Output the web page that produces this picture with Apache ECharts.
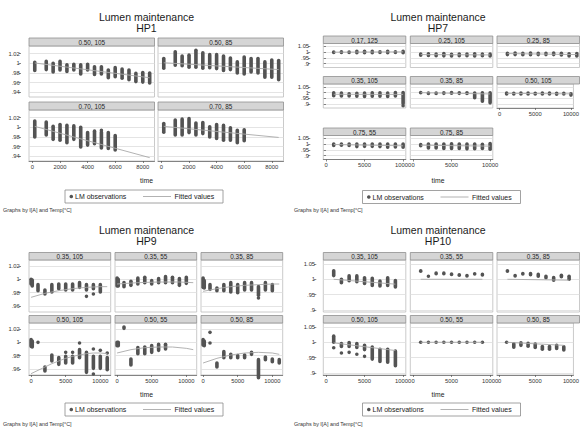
<!DOCTYPE html>
<html><head><meta charset="utf-8">
<script src="https://cdn.jsdelivr.net/npm/echarts@6/dist/echarts.min.js"></script>
<style>html,body{margin:0;padding:0;background:#fff}#c{width:582px;height:427px}</style>
</head><body><div id="c"></div>
<script>
// ---------- tick labels ----------
const hp1XTicks = [0, 2000, 4000, 6000, 8000];
const hp1YTicks = [0.94, 0.96, 0.98, 1, 1.02];
const hp7XTicks = [0, 5000, 10000];
const hp7YTicks = [0.9, 0.95, 1, 1.05];
const hp9XTicks = [0, 5000, 10000];
const hp9YTicks = [0.96, 0.98, 1, 1.02];
const hp10XTicks = [0, 5000, 10000];
const hp10YTicks = [0.9, 0.95, 1, 1.05];

// ---------- panel labels (I[A], Temp[°C]) ----------
const hp1Labels = ['0.50, 105', '0.50, 85', '0.70, 105', '0.70, 85'];
const hp7Labels = ['0.17, 125', '0.25, 105', '0.25, 85', '0.35, 105', '0.35, 85', '0.50, 105', '0.75, 55', '0.75, 85'];
const hp9Labels = ['0.35, 105', '0.35, 55', '0.35, 85', '0.50, 105', '0.50, 55', '0.50, 85'];
const hp10Labels = ['0.35, 105', '0.35, 55', '0.35, 85', '0.50, 105', '0.50, 55', '0.50, 85'];

// ---------- LM observations: [time, lowest, highest] ----------
const hp1_050_105 = [[168,.985,1.002],[1000,.987,1.004],[1500,.982,1.0],[2000,.986,1.004],[2500,.983,.997],[3000,.986,.998],[3500,.978,.997],[4000,.986,.998],[4500,.977,.993],[5000,.978,.993],[5500,.970,.986],[6000,.972,.991],[6500,.969,.988],[7000,.966,.986],[7500,.962,.979],[8000,.961,.981],[8500,.959,.980]];
const hp1_050_85 = [[168,.990,1.010],[1000,.996,1.024],[1500,.995,1.015],[2000,.992,1.017],[2500,.992,1.027],[3000,.990,1.022],[3500,.991,1.018],[4000,.989,1.018],[4500,.985,1.015],[5000,.987,1.011],[5500,.980,1.003],[6000,.978,1.013],[6500,.982,1.010],[7000,.980,1.010],[7500,.971,1.003],[8000,.971,1.007],[8500,.966,1.006]];
const hp1_070_105 = [[168,.980,1.013],[1000,.984,1.011],[1500,.975,1.002],[2000,.973,1.006],[2500,.968,1.004],[3000,.975,1.003],[3500,.959,1.0],[4000,.963,.989],[4500,.966,.992],[5000,.957,.990],[5000,.994,.994],[5500,.956,.989],[6000,.953,.983]];
const hp1_070_85 = [[168,.990,1.008],[1000,.984,1.015],[1500,.984,1.017],[2000,.989,1.018],[2500,.984,1.009],[3000,.987,1.010],[3500,.980,1.001],[4000,.977,1.006],[4500,.973,1.004],[5000,.973,.999],[5500,.968,.994],[6000,.972,.995]];

const hp7_017_125 = [[1000,.997,1.0],[2000,.997,1.003],[3000,.997,1.0],[4000,.995,1.007],[5000,.995,1.007],[6000,.995,1.006],[7000,.996,1.003],[8000,.995,1.007],[9000,.996,1.003],[10000,.995,1.007]];
const hp7_025_105 = [[1000,.972,.982],[2000,.970,.984],[3000,.968,.982],[4000,.967,.988],[5000,.966,.980],[6000,.968,.983],[7000,.968,.983],[8000,.966,.985],[9000,.968,.982],[10000,.965,.982]];
const hp7_025_85 = [[1000,.978,.990],[2000,.978,.992],[3000,.977,.990],[4000,.977,.991],[5000,.978,.990],[6000,.978,.990],[7000,.978,.992],[8000,.975,.990],[9000,.965,.985],[10000,.965,.987]];
const hp7_035_105 = [[1000,.972,.998],[2000,.970,.995],[3000,.970,.990],[4000,.968,.993],[5000,.966,.995],[6000,.968,.997],[7000,.968,.998],[8000,.965,.995],[9000,.970,1.0],[10000,.905,1.0],[10000,.885,.885]];
const hp7_035_85 = [[1000,.998,1.0],[2000,.992,.996],[3000,.992,.996],[4000,.993,.999],[5000,.995,1.0],[6000,.993,.999],[7000,.992,.998],[8000,.955,.995],[9000,.925,.997],[10000,.910,.997]];
const hp7_050_105 = [[1000,.988,.995],[2000,.987,.994],[3000,.988,.995],[4000,.987,.995],[5000,.988,.994],[6000,.987,.995],[7000,.988,.995],[8000,.986,.994],[9000,.987,.994],[10000,.978,.990]];
const hp7_075_55 = [[1000,.988,1.0],[2000,.990,1.0],[3000,.988,1.0],[4000,.978,1.0],[5000,.980,1.0],[6000,.980,1.0],[7000,.978,1.0],[8000,.972,1.0],[9000,.975,1.0],[10000,.972,1.0]];
const hp7_075_85 = [[1000,.985,.995],[2000,.965,1.0],[3000,.965,1.0],[4000,.962,1.0],[5000,.962,1.002],[6000,.962,1.0],[7000,.958,1.0],[8000,.960,1.0],[9000,.962,.998],[10000,.955,1.005]];

const hp9_035_105 = [[0,.993,1.0],[168,.990,.999],[1000,.983,.992],[2000,.978,.984],[3000,.981,.992],[4000,.986,.993],[5000,.984,.993],[6000,.984,.993],[7000,.988,.995],[8000,.984,.992],[8000,.9745,.9745],[9000,.986,.992],[9000,.978,.978],[10000,.981,.992]];
const hp9_035_55 = [[0,.990,1.002],[168,.990,1.0],[1000,.989,.995],[2000,.991,.997],[3000,.993,1.002],[4000,.995,1.003],[5000,.993,.998],[6000,.995,1.001],[7000,.995,1.004],[8000,.995,1.003],[9000,.991,1.001],[10000,.994,1.003]];
const hp9_035_85 = [[0,.988,1.002],[168,.987,.998],[1000,.985,.992],[2000,.983,.987],[3000,.983,.992],[4000,.981,.995],[5000,.980,.992],[6000,.984,.995],[7000,.984,.995],[8000,.976,.989],[8000,.972,.972],[9000,.984,.995],[10000,.983,.992]];
const hp9_050_105 = [[0,.994,1.004],[168,.993,1.002],[1000,1.0,1.0],[2000,.957,.963],[3000,.972,.981],[4000,.967,.977],[5000,.969,.979],[5000,.985,.985],[6000,.969,.979],[6000,.985,.985],[7000,.977,.989],[7000,.999,.999],[8000,.955,.985],[9000,.961,.979],[9000,.990,.990],[9000,.9525,.9525],[10000,.961,.979],[10000,.988,.988],[11000,.959,.977],[11000,.984,.984]];
const hp9_050_55 = [[0,.995,1.0],[168,.995,1.0],[1000,1.021,1.023],[2000,.966,.975],[3000,.983,.992],[4000,.983,.993],[5000,.985,.995],[6000,.988,.997],[7000,.990,.997]];
const hp9_050_85 = [[0,.996,1.004],[168,.995,1.002],[1000,1.015,1.015],[1000,.999,.999],[2000,.963,.969],[3000,.977,.986],[4000,.977,.982],[5000,.977,.980],[6000,.977,.981],[7000,.982,.985],[8000,.947,.974],[9000,.974,.978],[10000,.971,.975],[11000,.969,.974]];

const hp10_035_105 = [[1000,1.012,1.028],[2000,.989,1.0],[3000,.995,1.011],[4000,.992,1.011],[5000,.986,1.005],[6000,.980,1.003],[7000,.978,.994],[8000,.980,1.005],[9000,.975,.996]];
const hp10_035_55 = [[1000,1.026,1.028],[2000,1.010,1.010],[3000,1.018,1.020],[4000,1.018,1.020],[5000,1.016,1.017],[6000,1.013,1.015],[7000,1.011,1.012],[8000,1.017,1.018],[9000,1.014,1.016]];
const hp10_035_85 = [[1000,1.026,1.028],[2000,1.011,1.012],[3000,1.017,1.019],[4000,1.015,1.019],[5000,1.010,1.016],[6000,1.005,1.010],[7000,.997,1.006],[8000,1.008,1.013],[9000,1.0,1.010]];
const hp10_050_105 = [[1000,1.0,1.02],[1000,.982,.982],[2000,.986,.996],[2000,.965,.965],[3000,.986,.999],[3000,.967,.967],[4000,.983,.996],[4000,.961,.961],[5000,.976,.990],[5000,.954,.954],[6000,.945,.984],[7000,.937,.977],[8000,.935,.977],[9000,.923,.971]];
const hp10_050_55 = [[1000,1,1],[2000,1,1],[3000,1,1],[4000,1,1],[5000,1,1],[6000,1,1],[7000,1,1],[8000,1,1],[9000,1,1]];
const hp10_050_85 = [[1000,1.0,1.0],[2000,.984,.995],[3000,.990,.998],[4000,.987,.997],[5000,.983,.994],[6000,.977,.986],[7000,.977,.986],[8000,.980,.990],[9000,.975,.985]];

// ---------- Fitted values: [time, value] ----------
const hp1_050_105_fit = [[168,1.0007],[8500,.970]];
const hp1_050_85_fit = [[168,1.0012],[8500,.987]];
const hp1_070_105_fit = [[168,1.002],[8500,.937]];
const hp1_070_85_fit = [[168,1.002],[8500,.979]];

const hp7_017_125_fit = [[1000,.999],[10000,1.002]];
const hp7_025_105_fit = [[1000,.978],[10000,.975]];
const hp7_025_85_fit = [[1000,.987],[10000,.978]];
const hp7_035_105_fit = [[1000,.985],[10000,.984]];
const hp7_035_85_fit = [[1000,.999],[10000,.988]];
const hp7_050_105_fit = [[1000,.993],[10000,.989]];
const hp7_075_55_fit = [[1000,.996],[10000,.985]];
const hp7_075_85_fit = [[1000,.990],[10000,.982]];

const hp9_035_105_fit = [[0,.973],[2000,.979],[4000,.983],[6000,.986],[8000,.988],[10000,.989],[11000,.989]];
const hp9_035_55_fit = [[0,.993],[3000,.995],[6000,.996],[9000,.996],[11000,.995]];
const hp9_035_85_fit = [[0,.982],[2000,.986],[4000,.989],[6000,.991],[8000,.992],[10000,.993],[11000,.993]];
const hp9_050_105_fit = [[0,.953],[1000,.958],[2000,.963],[3000,.968],[4000,.972],[5000,.976],[6000,.979],[7000,.981],[8000,.983],[9000,.984],[10000,.984],[11000,.983]];
const hp9_050_55_fit = [[0,.984],[2000,.989],[4000,.992],[6000,.993],[8000,.993],[10000,.991],[11000,.989]];
const hp9_050_85_fit = [[0,.969],[2000,.976],[4000,.981],[6000,.984],[8000,.985],[10000,.984],[11000,.982]];

const hp10_035_105_fit = [[1000,1.0],[9000,.984]];
const hp10_035_55_fit = [[1000,1.0],[9000,1.0]];
const hp10_035_85_fit = [[1000,1.0],[9000,.997]];
const hp10_050_105_fit = [[1000,.998],[9000,.973]];
const hp10_050_55_fit = [[1000,1.0],[9000,1.0]];
const hp10_050_85_fit = [[1000,1.0],[9000,.990]];

// ---------- layout ----------
const FONT = '"Liberation Sans", Arial, Helvetica, sans-serif';
const quads = [
  { name: 'HP1', ox: 0, oy: 0, labels: hp1Labels,
    obs: [hp1_050_105, hp1_050_85, hp1_070_105, hp1_070_85],
    fit: [hp1_050_105_fit, hp1_050_85_fit, hp1_070_105_fit, hp1_070_85_fit],
    xt: hp1XTicks, yt: hp1YTicks, xr: [-250, 8850], yr: [0.93, 1.036],
    cols: [29, 158], w: 125.5, rows: [38, 102], hh: 8, ph: 51, yOff: 8, splitY: false,
    pos: [[0,0,0],[0,1,0],[1,0,1],[1,1,1]], cx: 146.5, timeY: 180, leg: [65, 190], note: [3, 210] },
  { name: 'HP7', ox: 291, oy: 0, labels: hp7Labels,
    obs: [hp7_017_125, hp7_025_105, hp7_025_85, hp7_035_105, hp7_035_85, hp7_050_105, hp7_075_55, hp7_075_85],
    fit: [hp7_017_125_fit, hp7_025_105_fit, hp7_025_85_fit, hp7_035_105_fit, hp7_035_85_fit, hp7_050_105_fit, hp7_075_55_fit, hp7_075_85_fit],
    xt: hp7XTicks, yt: hp7YTicks, xr: [-350, 10350], yr: [0.865, 1.075],
    cols: [323.3, 410.3, 497], w: 82.5, rows: [36, 76.5, 128], hh: 7.5, ph: 24, yOff: 13, splitY: true,
    pos: [[0,0,0],[0,1,0],[0,2,0],[1,0,0],[1,1,0],[1,2,1],[2,0,1],[2,1,1]], cx: 438, timeY: 180, leg: [362.5, 190.5], note: [294, 210] },
  { name: 'HP9', ox: 0, oy: 213, labels: hp9Labels,
    obs: [hp9_035_105, hp9_035_55, hp9_035_85, hp9_050_105, hp9_050_55, hp9_050_85],
    fit: [hp9_035_105_fit, hp9_035_55_fit, hp9_035_85_fit, hp9_050_105_fit, hp9_050_55_fit, hp9_050_85_fit],
    xt: hp9XTicks, yt: hp9YTicks, xr: [-300, 11500], yr: [0.951, 1.029],
    cols: [29, 115, 201], w: 81.7, rows: [252.5, 315.5], hh: 7.5, ph: 52, yOff: 8, splitY: false,
    pos: [[0,0,0],[0,1,0],[0,2,0],[1,0,1],[1,1,1],[1,2,1]], cx: 146.5, timeY: 394.5, leg: [65, 403], note: [3, 423.5] },
  { name: 'HP10', ox: 291, oy: 213, labels: hp10Labels,
    obs: [hp10_035_105, hp10_035_55, hp10_035_85, hp10_050_105, hp10_050_55, hp10_050_85],
    fit: [hp10_035_105_fit, hp10_035_55_fit, hp10_035_85_fit, hp10_050_105_fit, hp10_050_55_fit, hp10_050_85_fit],
    xt: hp10XTicks, yt: hp10YTicks, xr: [-350, 10350], yr: [0.893, 1.063],
    cols: [323.3, 410.3, 497], w: 82.5, rows: [252.5, 315.5], hh: 7.5, ph: 52, yOff: 7, splitY: false,
    pos: [[0,0,0],[0,1,0],[0,2,0],[1,0,1],[1,1,1],[1,2,1]], cx: 438, timeY: 394.5, leg: [362.5, 403], note: [294, 423.5] }
];

function stataNum(v) {
  const s = String(+Number(v).toFixed(4));
  return s.replace(/^0\./, '.');
}
function txt(text, x, y, size, align, color, extra) {
  return Object.assign({ type: 'text', silent: true, z: 10,
    style: { text: text, x: x, y: y, fontSize: size, fontFamily: FONT, fill: color || '#222',
      align: align || 'center', textAlign: align || 'center', verticalAlign: 'middle', textVerticalAlign: 'middle' } }, extra || {});
}
function renderColumn(params, api) {
  const t = api.value(0), lo = api.value(1), hi = api.value(2);
  const a = api.coord([t, hi]);
  const b = api.coord([t, lo]);
  const r = 1.8;
  return { type: 'rect', shape: { x: a[0] - r, y: a[1] - r, width: 2 * r, height: (b[1] - a[1]) + 2 * r, r: r },
    style: { fill: '#535353' } };
}
function yLabel(show, values) {
  return { show: show, customValues: values, hideOverlap: false, showMinLabel: true, showMaxLabel: true,
    fontSize: 5.8, fontFamily: FONT, color: '#333', margin: 1.2, formatter: v => stataNum(v) };
}

const grids = [], xAxes = [], yAxes = [], series = [], graphics = [];
let gi = 0;
quads.forEach(q => {
  graphics.push(txt('Lumen maintenance', q.cx, q.oy + 16.5, 10.5, 'center', '#1a1a1a'));
  graphics.push(txt(q.name, q.cx, q.oy + 27.5, 10.5, 'center', '#1a1a1a'));
  q.pos.forEach((p, k) => {
    const row = p[0], col = p[1], showX = !!p[2];
    const left = q.cols[col], hTop = q.rows[row];
    const top = hTop + q.hh;
    graphics.push({ type: 'rect', silent: true, z: 5,
      shape: { x: left, y: hTop, width: q.w, height: q.hh },
      style: { fill: '#d5d5d5', stroke: '#8f8f8f', lineWidth: 0.8 } });
    graphics.push(txt(q.labels[k], left + q.w / 2, hTop + q.hh / 2 + 0.3, 6.4, 'center', '#1e1e1e'));
    grids.push({ left: left, top: top, width: q.w, height: q.ph, show: true,
      backgroundColor: '#ffffff', borderColor: '#bcbcbc', borderWidth: 0.8, containLabel: false });
    const xi = xAxes.length;
    xAxes.push({ gridIndex: gi, type: 'value', min: q.xr[0], max: q.xr[1],
      splitLine: { show: false },
      axisLine: { show: showX, onZero: false, lineStyle: { color: '#6a6a6a', width: 0.8 } },
      axisTick: { show: showX, length: 2, customValues: q.xt, lineStyle: { color: '#555', width: 0.7 } },
      axisLabel: { show: showX, customValues: q.xt, hideOverlap: false, showMinLabel: true, showMaxLabel: true,
        fontSize: 5.8, fontFamily: FONT, color: '#333', margin: 2.5,
        formatter: v => String(v) } });
    const showY = col === 0;
    const yi = yAxes.length;
    // on tightly packed axes, alternate labels go on a twin axis so none is dropped
    const mainLabels = (showY && q.splitY) ? q.yt.filter((v, j) => j % 2 === 0) : q.yt;
    yAxes.push({ gridIndex: gi, type: 'value', min: q.yr[0], max: q.yr[1], offset: showY ? q.yOff : 0,
      splitLine: { show: true, lineStyle: { color: '#dddddd', width: 0.8 } },
      axisLine: { show: false, onZero: false },
      axisTick: { show: showY, length: 2.3, customValues: q.yt, lineStyle: { color: '#555', width: 0.7 } },
      axisLabel: yLabel(showY, mainLabels) });
    if (showY && q.splitY) {
      yAxes.push({ gridIndex: gi, type: 'value', position: 'left', min: q.yr[0], max: q.yr[1], offset: q.yOff,
        splitLine: { show: false }, axisLine: { show: false }, axisTick: { show: true, length: 2.3, customValues: q.yt, lineStyle: { color: '#555', width: 0.7 } },
        axisLabel: yLabel(true, q.yt.filter((v, j) => j % 2 === 1)) });
    }
    series.push({ type: 'custom', name: 'LM observations', xAxisIndex: xi, yAxisIndex: yi,
      renderItem: renderColumn, data: q.obs[k], encode: { x: 0, y: [1, 2] }, z: 3, silent: true });
    series.push({ type: 'line', name: 'Fitted values', xAxisIndex: xi, yAxisIndex: yi,
      data: q.fit[k], showSymbol: false, symbol: 'none', smooth: false,
      lineStyle: { color: '#a9a9a9', width: 0.9 }, z: 4, silent: true });
    gi++;
  });
  graphics.push(txt('time', q.cx, q.timeY, 6.8, 'center', '#222'));
  const lx = q.leg[0], ly = q.leg[1], lw = 158, lh = 13;
  graphics.push({ type: 'rect', silent: true, z: 5, shape: { x: lx, y: ly, width: lw, height: lh },
    style: { fill: '#fff', stroke: '#8a8a8a', lineWidth: 0.8 } });
  graphics.push({ type: 'circle', silent: true, z: 10, shape: { cx: lx + 6.3, cy: ly + lh / 2, r: 1.8 },
    style: { fill: '#535353' } });
  graphics.push(txt('LM observations', lx + 10, ly + lh / 2 + 0.3, 7, 'left', '#222'));
  graphics.push({ type: 'line', silent: true, z: 10,
    shape: { x1: lx + 78, y1: ly + lh / 2, x2: lx + 106, y2: ly + lh / 2 },
    style: { stroke: '#a9a9a9', lineWidth: 0.9 } });
  graphics.push(txt('Fitted values', lx + 109.5, ly + lh / 2 + 0.3, 7, 'left', '#222'));
  graphics.push(txt('Graphs by I[A] and Temp[°C]', q.note[0], q.note[1], 5.4, 'left', '#333'));
});

const chart = echarts.init(document.getElementById('c'), null, { renderer: 'svg' });
chart.setOption({
  animation: false,
  backgroundColor: '#ffffff',
  textStyle: { fontFamily: FONT },
  grid: grids,
  xAxis: xAxes,
  yAxis: yAxes,
  series: series,
  graphic: graphics
});
</script>
</body></html>
